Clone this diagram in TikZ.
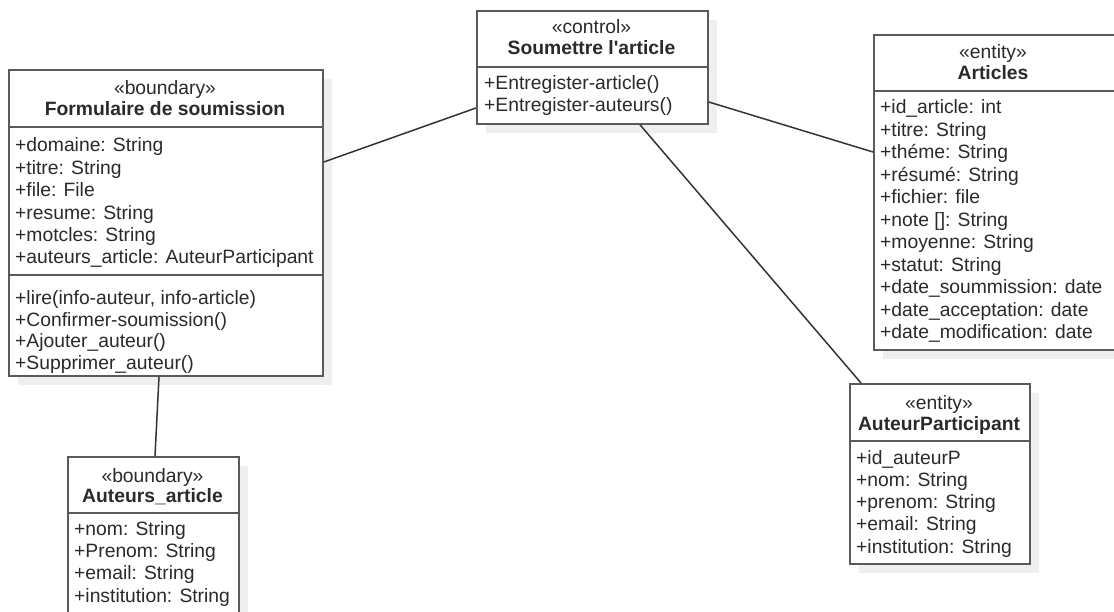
\documentclass[tikz,border=0pt]{standalone}
\usepackage{fontspec}
\setmainfont{Liberation Sans}
\usetikzlibrary{shadows}
\definecolor{umlline}{HTML}{5A5A5A}
\definecolor{umltext}{HTML}{2A2A2A}
\definecolor{umlshadow}{HTML}{EFEFEF}
\newcommand{\umlfont}{\fontsize{19.3}{22}\selectfont}
\tikzset{
  classbox/.style={draw=umlline, line width=1.8pt, fill=white, anchor=north west,
    inner sep=0pt, drop shadow={shadow xshift=9pt, shadow yshift=-9pt, fill=umlshadow, opacity=1}},
  sepline/.style={draw=umlline, line width=1.6pt},
  assoc/.style={draw=black!80, line width=1.5pt},
  stereo/.style={anchor=base, inner sep=0pt, text=umltext, font=\umlfont},
  title/.style={anchor=base, inner sep=0pt, text=umltext, font=\umlfont\bfseries},
  member/.style={anchor=base west, inner sep=0pt, text=umltext, font=\umlfont},
}
\begin{document}
\begin{tikzpicture}[x=1pt,y=-1pt]
\useasboundingbox (0,0) rectangle (1114,612);

% class boxes
\node[classbox, minimum width=314pt, minimum height=306pt] (form) at (8,69) {};
\node[classbox, minimum width=231pt, minimum height=113pt] (soum) at (476,10) {};
\node[classbox, minimum width=246pt, minimum height=315pt] (art) at (873,34) {};
\node[classbox, minimum width=180pt, minimum height=180pt] (autp) at (849,383) {};
\node[classbox, minimum width=171pt, minimum height=170pt] (auta) at (67,456) {};

% compartment separators
\draw[sepline] (8,127) -- (322,127);
\draw[sepline] (8,275) -- (322,275);
\draw[sepline] (476,67) -- (707,67);
\draw[sepline] (873,91) -- (1119,91);
\draw[sepline] (849,441) -- (1029,441);
\draw[sepline] (67,513) -- (238,513);

% Formulaire de soumission
\node[stereo] (form-st) at (165,95) {«boundary»};
\node[title] (form-ti) at (165,116) {Formulaire de soumission};
\foreach \t [count=\i] in {+domaine: String, +titre: String, +file: File, +resume: String,
  +motcles: String, +auteurs\_article: AuteurParticipant}
  \node[member] (form-a\i) at (15,{152+22.4*(\i-1)}) {\t};
\foreach \t [count=\i] in {{+lire(info-auteur, info-article)}, +Confirmer-soumission(),
  +Ajouter\_auteur(), +Supprimer\_auteur()}
  \node[member] (form-m\i) at (15,{305+21.5*(\i-1)}) {\t};

% Soumettre l'article
\node[stereo] (soum-st) at (591.5,34) {«control»};
\node[title] (soum-ti) at (591.5,55) {Soumettre l\textquotesingle article};
\node[member] (soum-m1) at (484,90) {+Entregister-article()};
\node[member] (soum-m2) at (484,112) {+Entregister-auteurs()};

% Articles
\node[stereo] (art-st) at (993,59) {«entity»};
\node[title] (art-ti) at (993,80) {Articles};
\foreach \t [count=\i] in {+id\_article: int, +titre: String, +théme: String, +résumé: String,
  +fichier: file, +note []: String, +moyenne: String, +statut: String,
  +date\_soummission: date, +date\_acceptation: date, +date\_modification: date}
  \node[member] (art-a\i) at (880,{114+22.5*(\i-1)}) {\t};

% AuteurParticipant
\node[stereo] (autp-st) at (939,409) {«entity»};
\node[title] (autp-ti) at (939,430) {AuteurParticipant};
\foreach \t [count=\i] in {+id\_auteurP, +nom: String, +prenom: String, +email: String,
  +institution: String}
  \node[member] (autp-a\i) at (856,{464+22.3*(\i-1)}) {\t};

% Auteurs_article
\node[stereo] (auta-st) at (152.5,482) {«boundary»};
\node[title] (auta-ti) at (152.5,502) {Auteurs\_article};
\foreach \t [count=\i] in {+nom: String, +Prenom: String, +email: String, +institution: String}
  \node[member] (auta-a\i) at (74,{535+22.4*(\i-1)}) {\t};

% associations
\draw[assoc] ([yshift=-93pt]form.north east) -- ([yshift=-98pt]soum.north west);
\draw[assoc] ([yshift=-92pt]soum.north east) -- ([yshift=-118pt]art.north west);
\draw[assoc] ([xshift=164pt]soum.south west) -- ([xshift=12pt]autp.north west);
\draw[assoc] ([xshift=151pt]form.south west) -- ([xshift=88pt]auta.north west);
\end{tikzpicture}
\end{document}
